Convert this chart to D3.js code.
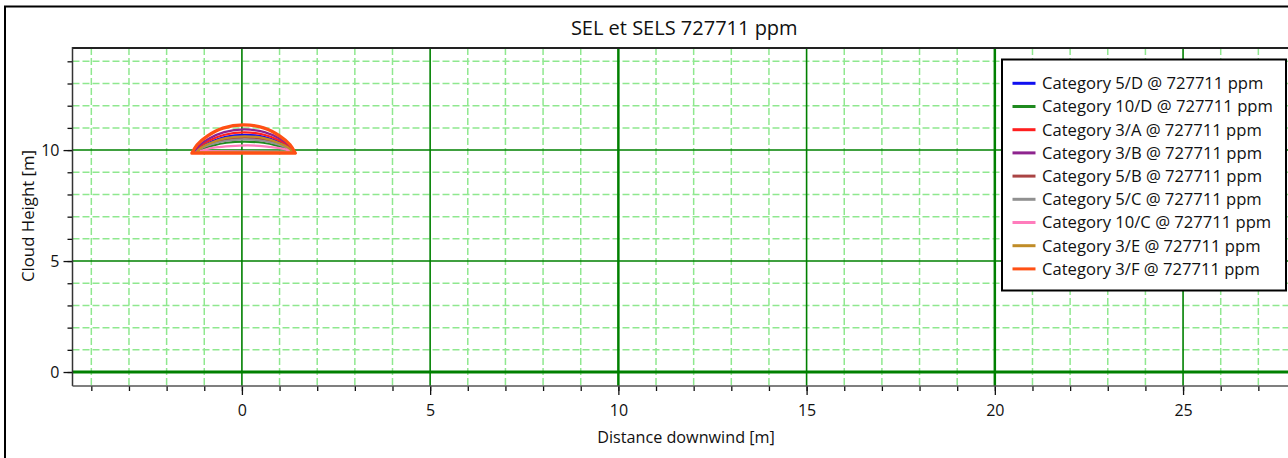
<!DOCTYPE html>
<html><head><meta charset="utf-8">
<script src="https://cdn.jsdelivr.net/npm/d3@7"></script>
<style>
html,body{margin:0;padding:0;background:#fff;overflow:hidden}
svg{display:block;font-family:"Open Sans","Noto Sans",sans-serif}
</style></head>
<body>
<svg id="chart" width="1288" height="458"></svg>
<script>
// ---- data ----
const title = "SEL et SELS 727711 ppm";
const xTitle = "Distance downwind [m]";
const yTitle = "Cloud Height [m]";
const xMajorTicks = [0, 5, 10, 15, 20, 25];
const yMajorTicks = [0, 5, 10];
const seriesNames = ["Category 5/D @ 727711 ppm","Category 10/D @ 727711 ppm","Category 3/A @ 727711 ppm","Category 3/B @ 727711 ppm","Category 5/B @ 727711 ppm","Category 5/C @ 727711 ppm","Category 10/C @ 727711 ppm","Category 3/E @ 727711 ppm","Category 3/F @ 727711 ppm"];
const seriesColors = ["#1010f0","#1f8a1f","#ff1f1f","#8e248e","#aa4444","#909090","#ff7cbc","#c08c28","#ff5014"];
// contour points (x in m, cloud height in m) per category
const cat5D_x  = [-1.2, -1.07, -0.82, -0.435, 0.075, 0.585, 0.97, 1.22, 1.35];
const cat5D_y  = [9.9, 10.14, 10.37, 10.6, 10.69, 10.6, 10.37, 10.14, 9.9];
const cat10D_x = [-1.15, -1.03, -0.78, -0.415, 0.075, 0.565, 0.93, 1.18, 1.3];
const cat10D_y = [9.9, 10.06, 10.2, 10.33, 10.38, 10.33, 10.2, 10.06, 9.9];
const cat3A_x  = [-1.25, -1.12, -0.855, -0.46, 0.065, 0.59, 0.985, 1.25, 1.38];
const cat3A_y  = [9.9, 10.17, 10.44, 10.69, 10.8, 10.69, 10.44, 10.17, 9.9];
const cat3B_x  = [-1.27, -1.135, -0.87, -0.47, 0.065, 0.6, 1.0, 1.265, 1.4];
const cat3B_y  = [9.9, 10.21, 10.52, 10.81, 10.93, 10.81, 10.52, 10.21, 9.9];
const cat5B_x  = [-1.2, -1.07, -0.82, -0.435, 0.075, 0.585, 0.97, 1.22, 1.35];
const cat5B_y  = [9.9, 10.1, 10.3, 10.48, 10.56, 10.48, 10.3, 10.1, 9.9];
const cat5C_x  = [-1.22, -1.09, -0.83, -0.445, 0.07, 0.585, 0.97, 1.23, 1.36];
const cat5C_y  = [9.9, 10.07, 10.25, 10.41, 10.48, 10.41, 10.25, 10.07, 9.9];
const cat10C_x = [-1.1, -0.95, -0.7, -0.3, 0.15, 0.6, 0.95, 1.2, 1.36];
const cat10C_y = [9.95, 10.04, 10.12, 10.18, 10.21, 10.17, 10.1, 10.02, 9.92];
const cat3E_x  = [-1.2, -1.07, -0.82, -0.435, 0.075, 0.585, 0.97, 1.22, 1.35];
const cat3E_y  = [9.9, 10.12, 10.33, 10.54, 10.62, 10.54, 10.33, 10.12, 9.9];
const cat3F_x  = [-1.33, -1.19, -0.92, -0.505, 0.045, 0.595, 1.01, 1.28, 1.42];
const cat3F_y  = [9.86, 10.24, 10.63, 10.99, 11.14, 10.99, 10.63, 10.24, 9.86];
const seriesX = [cat5D_x, cat10D_x, cat3A_x, cat3B_x, cat5B_x, cat5C_x, cat10C_x, cat3E_x, cat3F_x];
const seriesY = [cat5D_y, cat10D_y, cat3A_y, cat3B_y, cat5B_y, cat5C_y, cat10C_y, cat3E_y, cat3F_y];

// ---- layout ----
const svg = d3.select("#chart");
const L = 72.5, T = 48, R = 1296, B = 386;
const x = d3.scaleLinear().domain([-4.5, 28]).range([L, R]);
const y = d3.scaleLinear().domain([-0.63, 14.6]).range([B, T]);

// outer frame
svg.append("rect").attr("x",5).attr("y",6.5).attr("width",1300).attr("height",470)
  .attr("fill","#fff").attr("stroke","#000").attr("stroke-width",2);

svg.append("defs").append("clipPath").attr("id","clip")
  .append("rect").attr("x",L).attr("y",T).attr("width",R-L).attr("height",B-T);

const grid = svg.append("g").attr("clip-path","url(#clip)");
const xMinor = d3.range(-4, 29, 1);
const yMinor = d3.range(0, 15, 1);
grid.selectAll(".vx").data(xMinor.filter(v => v % 5 !== 0)).join("line")
  .attr("x1", d => x(d)).attr("x2", d => x(d)).attr("y1", T).attr("y2", B)
  .attr("stroke","#8fe88f").attr("stroke-width",1.5).attr("stroke-dasharray","7,3");
grid.selectAll(".hy").data(yMinor.filter(v => v % 5 !== 0)).join("line")
  .attr("y1", d => y(d)).attr("y2", d => y(d)).attr("x1", L).attr("x2", R)
  .attr("stroke","#8fe88f").attr("stroke-width",1.5).attr("stroke-dasharray","7,3");
grid.selectAll(".vmaj").data(xMajorTicks).join("line")
  .attr("x1", d => x(d)).attr("x2", d => x(d)).attr("y1", T).attr("y2", B)
  .attr("stroke","#008000").attr("stroke-width", d => (d % 10 === 0 && d !== 0) ? 2.5 : 1.6);
grid.selectAll(".hmaj").data(yMajorTicks).join("line")
  .attr("y1", d => y(d)).attr("y2", d => y(d)).attr("x1", L).attr("x2", R)
  .attr("stroke","#008000").attr("stroke-width", d => d === 0 ? 3 : 1.5);

// axes
const fontTick = "16px";
const xAxisMinor = d3.axisBottom(x).tickValues(xMinor).tickSize(5).tickFormat("");
const xAxisMajor = d3.axisBottom(x).tickValues(xMajorTicks).tickSize(9).tickPadding(10).tickFormat(d3.format("d"));
const yAxisMinor = d3.axisLeft(y).tickValues(yMinor).tickSize(5).tickFormat("");
const yAxisMajor = d3.axisLeft(y).tickValues(yMajorTicks).tickSize(9).tickPadding(4).tickFormat(d3.format("d"));
function styleAxis(g){
  g.select(".domain").remove();
  g.selectAll(".tick line").attr("stroke","#111").attr("stroke-width",1.3);
  g.selectAll("text").attr("fill","#111").style("font-size",fontTick).style("font-family",'"Open Sans",sans-serif');
}
svg.append("g").attr("transform",`translate(0,${B})`).call(xAxisMinor).call(styleAxis);
svg.append("g").attr("transform",`translate(0,${B})`).call(xAxisMajor).call(styleAxis);
svg.append("g").attr("transform",`translate(${L},0)`).call(yAxisMinor).call(styleAxis);
svg.append("g").attr("transform",`translate(${L},0)`).call(yAxisMajor).call(styleAxis);

// plot border
svg.append("line").attr("x1",L).attr("x2",1300).attr("y1",T).attr("y2",T).attr("stroke","#222").attr("stroke-width",2);
svg.append("line").attr("x1",L).attr("x2",L).attr("y1",T-1).attr("y2",B).attr("stroke","#333").attr("stroke-width",1.5);
svg.append("line").attr("x1",L).attr("x2",1300).attr("y1",B).attr("y2",B).attr("stroke","#555").attr("stroke-width",1.5);

// series
const line = d3.line().x(d => x(d[0])).y(d => y(d[1])).curve(d3.curveCatmullRom);
const plot = svg.append("g").attr("clip-path","url(#clip)");
seriesNames.forEach((name, i) => {
  const pts = seriesX[i].map((v, j) => [v, seriesY[i][j]]);
  plot.append("path").attr("d", line(pts) + "Z")
    .attr("fill","none").attr("stroke", seriesColors[i])
    .attr("stroke-width", i === 8 ? 3.2 : 2.2).attr("stroke-linejoin","round");
});

// legend
const lg = svg.append("g");
lg.append("rect").attr("x",1002).attr("y",59.5).attr("width",284).attr("height",231)
  .attr("fill","#fff").attr("stroke","#000").attr("stroke-width",2);
seriesNames.forEach((name, i) => {
  const cy = 83.3 + i * 23.2;
  lg.append("line").attr("x1",1012.5).attr("x2",1035.5).attr("y1",cy).attr("y2",cy)
    .attr("stroke", seriesColors[i]).attr("stroke-width",3);
  lg.append("text").attr("x",1042).attr("y",cy).attr("dy","0.35em")
    .style("font-size","16.6px").attr("fill","#111").text(name);
});

// titles
svg.append("text").attr("x",(L+R)/2).attr("y",35).attr("text-anchor","middle")
  .style("font-size","20px").attr("fill","#111").text(title);
svg.append("text").attr("x",686).attr("y",443).attr("text-anchor","middle")
  .style("font-size","16.2px").attr("fill","#111").text(xTitle);
svg.append("text").attr("transform",`translate(34,${(T+B)/2 - 1}) rotate(-90)`).attr("text-anchor","middle")
  .style("font-size","16.8px").attr("fill","#111").text(yTitle);
</script>
</body></html>
